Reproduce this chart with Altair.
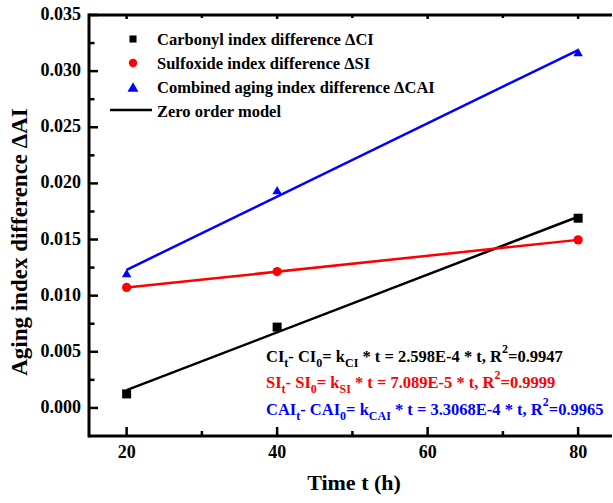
import altair as alt
import pandas as pd

# ---------------- data ----------------
time_h = [20, 40, 80]
delta_ci = [0.00125, 0.0072, 0.0169]
delta_si = [0.01073, 0.01215, 0.01497]
delta_cai = [0.0120, 0.0194, 0.0317]

fit_t = [20, 80]
fit_ci = [0.00158, 0.01703]
fit_si = [0.01072, 0.01497]
fit_cai = [0.01230, 0.03188]

series_names = [
    "Carbonyl index difference ΔCI",
    "Sulfoxide index difference ΔSI",
    "Combined aging index difference ΔCAI",
]
model_name = "Zero order model"
x_title = "Time t (h)"
y_title = "Aging index difference ΔAI"

x_major = [20, 40, 60, 80]
x_minor = [30, 50, 70]
y_major = [0.0, 0.005, 0.010, 0.015, 0.020, 0.025, 0.030, 0.035]
y_minor = [0.0025, 0.0075, 0.0125, 0.0175, 0.0225, 0.0275, 0.0325]
x_domain = [15, 84.5]
y_domain = [-0.0025, 0.035]

equations = [
    [("CI", "n"), ("t", "sub"), ("- CI", "n"), ("0", "sub"), ("= k", "n"), ("CI", "sub"),
     (" * t = 2.598E-4 * t, R", "n"), ("2", "sup"), ("=0.9947", "n")],
    [("SI", "n"), ("t", "sub"), ("- SI", "n"), ("0", "sub"), ("= k", "n"), ("SI", "sub"),
     (" * t = 7.089E-5 * t, R", "n"), ("2", "sup"), ("=0.9999", "n")],
    [("CAI", "n"), ("t", "sub"), ("- CAI", "n"), ("0", "sub"), ("= k", "n"), ("CAI", "sub"),
     (" * t = 3.3068E-4 * t, R", "n"), ("2", "sup"), ("=0.9965", "n")],
]

# ---------------- styles ----------------
colors = ["#000000", "#ff0000", "#0000ff"]
shapes = ["square", "circle", "triangle-up"]
sizes = [81, 90, 150]
FONT = "Liberation Serif"
W, H = 523, 421

xs = alt.Scale(domain=x_domain, nice=False, zero=False)
ys = alt.Scale(domain=y_domain, nice=False, zero=False)
cscale = alt.Scale(domain=series_names, range=colors)

pts = pd.DataFrame({
    "t": time_h * 3,
    "v": delta_ci + delta_si + delta_cai,
    "s": [series_names[0]] * 3 + [series_names[1]] * 3 + [series_names[2]] * 3,
})
fits = pd.DataFrame({
    "t": fit_t * 3,
    "v": fit_ci + fit_si + fit_cai,
    "s": [series_names[0]] * 2 + [series_names[1]] * 2 + [series_names[2]] * 2,
})

lines = alt.Chart(fits).mark_line(strokeWidth=2.5).encode(
    x=alt.X("t:Q", scale=xs, axis=None),
    y=alt.Y("v:Q", scale=ys, axis=None),
    color=alt.Color("s:N", scale=cscale, legend=None),
    detail="s:N",
)

points = alt.Chart(pts).mark_point(filled=True, opacity=1).encode(
    x=alt.X("t:Q", scale=xs, axis=None),
    y=alt.Y("v:Q", scale=ys, axis=None),
    color=alt.Color("s:N", scale=cscale, legend=None),
    shape=alt.Shape("s:N", scale=alt.Scale(domain=series_names, range=shapes), legend=None),
    size=alt.Size("s:N", scale=alt.Scale(domain=series_names, range=sizes), legend=None),
)

one = pd.DataFrame({"a": [0]})

# ---------------- hand-built axes (domain, inward ticks, labels, titles) ----------------
def rule(**enc):
    return alt.Chart(one).mark_rule(color="black", strokeWidth=3).encode(**enc)

frame = [
    rule(x=alt.value(0), x2=alt.value(W), y=alt.value(0)),
    rule(x=alt.value(0), x2=alt.value(W), y=alt.value(H)),
    rule(x=alt.value(0), y=alt.value(-1.5), y2=alt.value(H + 1.5)),
]

def xticks(vals, y0, y1):
    return alt.Chart(pd.DataFrame({"t": vals})).mark_rule(color="black", strokeWidth=2.5).encode(
        x=alt.X("t:Q", scale=xs, axis=None), y=alt.value(y0), y2=alt.value(y1))

def yticks(vals, length):
    return alt.Chart(pd.DataFrame({"v": vals})).mark_rule(color="black", strokeWidth=2.5).encode(
        y=alt.Y("v:Q", scale=ys, axis=None), x=alt.value(0), x2=alt.value(length))

ticks = [
    xticks(x_major, H, H - 9), xticks(x_minor, H, H - 5),
    xticks(x_major, 0, 4), xticks(x_minor, 0, 3),
    yticks(y_major, 9), yticks(y_minor, 5.5),
]

x_labels = alt.Chart(pd.DataFrame({"t": x_major})).mark_text(
    align="center", baseline="alphabetic", font=FONT, fontWeight="bold", fontSize=18, color="black"
).encode(x=alt.X("t:Q", scale=xs, axis=None), y=alt.value(H + 21.5), text=alt.Text("t:Q", format="d"))

y_labels = alt.Chart(pd.DataFrame({"v": y_major})).mark_text(
    align="right", baseline="middle", font=FONT, fontWeight="bold", fontSize=18, color="black"
).encode(y=alt.Y("v:Q", scale=ys, axis=None), x=alt.value(-8), text=alt.Text("v:Q", format=".3f"))

x_title_mark = alt.Chart(pd.DataFrame({"label": [x_title]})).mark_text(
    align="center", baseline="alphabetic", font=FONT, fontWeight="bold", fontSize=22, color="black"
).encode(x=alt.value(265), y=alt.value(H + 54), text="label:N")

y_title_mark = alt.Chart(pd.DataFrame({"label": [y_title]})).mark_text(
    align="center", baseline="alphabetic", font=FONT, fontWeight="bold", fontSize=23, color="black",
    angle=270
).encode(x=alt.value(-62), y=alt.value(227), text="label:N")

# ---------------- legend (pixel-placed) ----------------
legend_layers = []
leg_y = [24, 48, 72]
leg_sizes = [50, 70, 120]
for name, col, shp, yy, sz in zip(series_names, colors, shapes, leg_y, leg_sizes):
    legend_layers.append(
        alt.Chart(one).mark_point(filled=True, opacity=1, shape=shp, color=col, size=sz).encode(
            x=alt.value(44), y=alt.value(yy)))
legend_layers.append(
    alt.Chart(one).mark_rule(color="black", strokeWidth=2.5).encode(
        x=alt.value(21), x2=alt.value(63), y=alt.value(95)))
for lbl, yy in zip(series_names + [model_name], [30, 54, 78, 102]):
    legend_layers.append(
        alt.Chart(pd.DataFrame({"label": [lbl]})).mark_text(
            align="left", baseline="alphabetic", font=FONT, fontWeight="bold", fontSize=16.5,
            color="black").encode(x=alt.value(68), y=alt.value(yy), text="label:N"))

# ---------------- equations with sub/superscripts ----------------
WID = {" ": 250, "-": 333, ".": 250, ",": 250, "*": 500, "=": 570, "A": 722, "C": 722,
       "E": 667, "I": 389, "R": 722, "S": 556, "k": 556, "t": 333}
for d in "0123456789":
    WID[d] = 500

def tw(s, fs):
    return sum(WID.get(c, 500) for c in s) * fs / 1000.0

FS_MAIN, FS_SUB = 16.5, 12
eq_layers = []
baselines = [346.7, 373, 400]
for eq, base, col in zip(equations, baselines, colors):
    cx = 177.0
    for txt, kind in eq:
        fs = FS_MAIN if kind == "n" else FS_SUB
        lead = len(txt) - len(txt.lstrip(" "))
        cx += lead * 250 * fs / 1000.0
        body = txt.strip(" ")
        dy = 0 if kind == "n" else (5 if kind == "sub" else -9)
        eq_layers.append(
            alt.Chart(pd.DataFrame({"seg": [body]})).mark_text(
                align="left", baseline="alphabetic", font=FONT, fontWeight="bold",
                fontSize=fs, color=col).encode(x=alt.value(cx), y=alt.value(base + dy), text="seg:N"))
        cx += tw(body, fs)

chart = alt.layer(
    lines, points, *frame, *ticks, x_labels, y_labels, x_title_mark, y_title_mark,
    *legend_layers, *eq_layers
).properties(
    width=W, height=H,
    autosize=alt.AutoSizeParams(type="none"),
    padding={"left": 89, "top": 15, "right": 1, "bottom": 67},
).configure_view(stroke=None).resolve_scale(color="independent", shape="independent", size="independent")

chart.save("out.html", embed_options={"renderer": "svg", "actions": False})
